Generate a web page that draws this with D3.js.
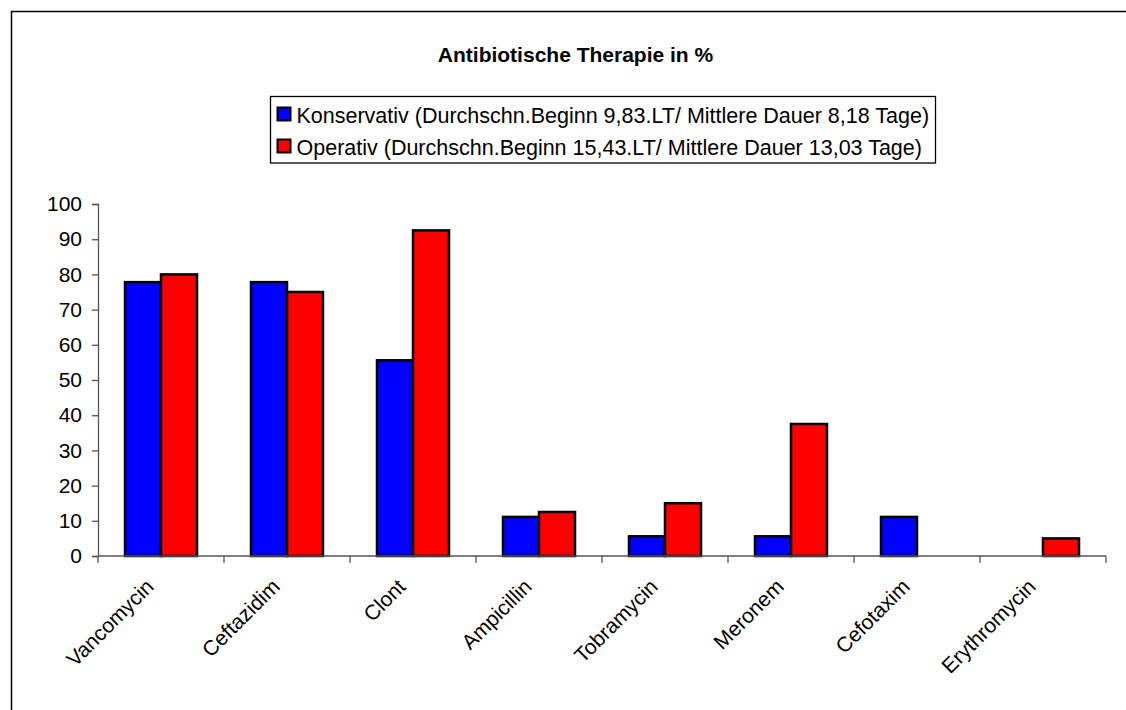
<!DOCTYPE html>
<html>
<head>
<meta charset="utf-8">
<script src="https://cdn.jsdelivr.net/npm/d3@7"></script>
<style>
  body { margin: 0; background: #fff; }
  svg { font-family: Arial, "Liberation Sans", sans-serif; }
</style>
</head>
<body>
<svg id="chart" width="1126" height="710"></svg>
<script>
// data
const categories = ['Vancomycin', 'Ceftazidim', 'Clont', 'Ampicillin', 'Tobramycin', 'Meronem', 'Cefotaxim', 'Erythromycin'];
const seriesNames = [
  'Konservativ (Durchschn.Beginn 9,83.LT/ Mittlere Dauer 8,18 Tage)',
  'Operativ (Durchschn.Beginn 15,43.LT/ Mittlere Dauer 13,03 Tage)',
];
const konservativ = [77.8, 77.8, 55.6, 11.1, 5.6, 5.6, 11.1, 0];
const operativ = [80, 75, 92.5, 12.5, 15, 37.5, 0, 5];
const yTicks = [0, 10, 20, 30, 40, 50, 60, 70, 80, 90, 100];
const colors = ['#0000ff', '#ff0000'];

const svg = d3.select('svg#chart');

// outer frame (only top and left edges fall inside the picture)
svg.append('rect')
  .attr('x', 11.5).attr('y', 11.5)
  .attr('width', 1200).attr('height', 800)
  .attr('fill', 'none')
  .attr('stroke', '#000')
  .attr('stroke-width', 1.5);

// title
svg.append('text')
  .attr('x', 575.5).attr('y', 62)
  .attr('text-anchor', 'middle')
  .attr('font-size', '21px')
  .attr('font-weight', 'bold')
  .text('Antibiotische Therapie in %');

// scales
const x0 = d3.scaleBand()
  .domain(categories)
  .range([98, 1106]);

const x1 = d3.scaleBand()
  .domain(seriesNames)
  .range([0, x0.bandwidth()])
  .paddingOuter(0.75);

const y = d3.scaleLinear()
  .domain([0, 100])
  .range([556, 204]);

// y axis
const yAxis = d3.axisLeft(y).tickValues(yTicks).tickSize(6).tickPadding(10);
const gy = svg.append('g')
  .attr('transform', 'translate(98,0)')
  .call(yAxis);
gy.select('.domain').attr('stroke', '#555').attr('stroke-width', 1.3);
gy.selectAll('.tick line').attr('stroke', '#555').attr('stroke-width', 1.3);
gy.selectAll('.tick text')
  .attr('font-size', '21px')
  .attr('fill', '#000')
  .attr('font-family', 'Arial, "Liberation Sans", sans-serif');

// bars
const table = categories.map((c, i) => ({ cat: c, values: [konservativ[i], operativ[i]] }));

const groups = svg.selectAll('g.group')
  .data(table)
  .enter()
  .append('g')
  .attr('class', 'group')
  .attr('transform', (d) => `translate(${x0(d.cat)},0)`);

groups.selectAll('rect')
  .data((d) => d.values.map((v, j) => ({ v, name: seriesNames[j], j })).filter((e) => e.v > 0))
  .enter()
  .append('rect')
  .attr('x', (e) => x1(e.name))
  .attr('y', (e) => y(e.v))
  .attr('width', x1.bandwidth())
  .attr('height', (e) => y(0) - y(e.v))
  .attr('fill', (e) => colors[e.j])
  .attr('stroke', '#000')
  .attr('stroke-width', 2.5);

// x axis: line plus ticks on the category boundaries
const boundaries = categories.map((c) => x0(c)).concat([x0.range()[1]]);
const gx = svg.append('g');
gx.append('line')
  .attr('x1', 98).attr('x2', x0.range()[1])
  .attr('y1', y(0)).attr('y2', y(0))
  .attr('stroke', '#555').attr('stroke-width', 1.3);
gx.selectAll('line.tick')
  .data(boundaries)
  .enter()
  .append('line')
  .attr('class', 'tick')
  .attr('x1', (d) => d).attr('x2', (d) => d)
  .attr('y1', y(0)).attr('y2', y(0) + 7)
  .attr('stroke', '#555').attr('stroke-width', 1.3);

gx.selectAll('text')
  .data(categories)
  .enter()
  .append('text')
  .attr('transform', (d) => `translate(${x0(d) + x0.bandwidth() / 2 - 6},${y(0) + 32}) rotate(-45)`)
  .attr('text-anchor', 'end')
  .attr('font-size', '21px')
  .text((d) => d);

// legend
const legend = svg.append('g').attr('transform', 'translate(270.5,96.5)');
legend.append('rect')
  .attr('width', 665).attr('height', 66.5)
  .attr('fill', '#fff')
  .attr('stroke', '#000')
  .attr('stroke-width', 1.3);

const items = legend.selectAll('g.item')
  .data(seriesNames)
  .enter()
  .append('g')
  .attr('class', 'item')
  .attr('transform', (d, i) => `translate(7,${11 + i * 32})`);

items.append('rect')
  .attr('width', 13).attr('height', 13)
  .attr('fill', (d, i) => colors[i])
  .attr('stroke', '#000')
  .attr('stroke-width', 2);

items.append('text')
  .attr('x', 19).attr('y', 15)
  .attr('font-size', '21.5px')
  .text((d) => d);
</script>
</body>
</html>
